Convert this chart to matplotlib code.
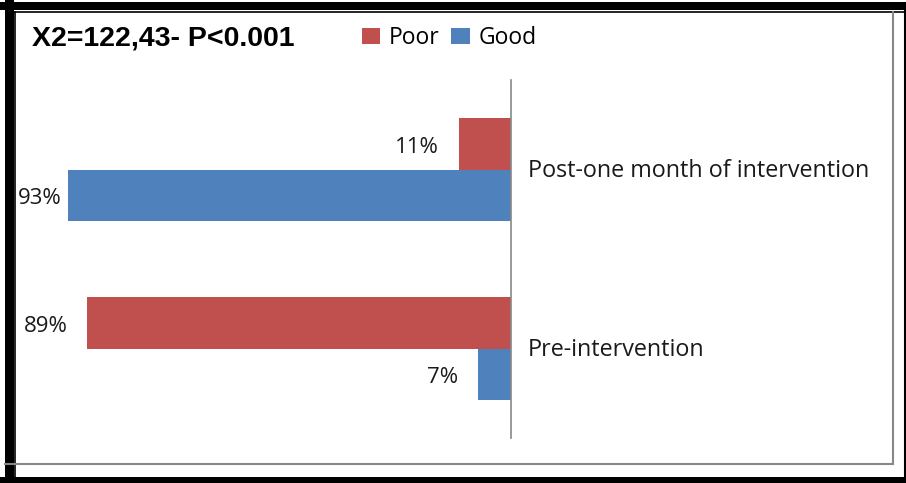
import matplotlib.pyplot as plt
from matplotlib.patches import Rectangle
from matplotlib.lines import Line2D
import numpy as np

# Datos
categorias = ["Pre-intervention", "Post-one month of intervention"]
poor = [89, 11]
good = [7, 93]
series = ["Poor", "Good"]
colores = ["#C0504D", "#4F81BD"]
titulo = "X2=122,43- P<0.001"

W, H = 906, 483
fig = plt.figure(figsize=(W / 100, H / 100), dpi=100)

def fx(px): return px / W
def fy(py): return 1 - py / H

# Marco exterior
neg = dict(transform=fig.transFigure, color="black", zorder=0)
fig.add_artist(Rectangle((fx(0), fy(10)), 1, fy(2) - fy(10), lw=0, **neg))
fig.add_artist(Rectangle((fx(5), fy(483)), fx(9), 1, lw=0, **neg))
fig.add_artist(Rectangle((0, 0), 1, fy(477), lw=0, **neg))
fig.add_artist(Line2D([fx(905), fx(905)], [0, fy(3)], lw=1.5, transform=fig.transFigure, color="black"))
fig.add_artist(Line2D([fx(15), fx(15)], [0, fy(12)], lw=1.2, transform=fig.transFigure, color="black"))
fig.add_artist(Line2D([fx(15), 1], [fy(12), fy(12)], lw=1.2, transform=fig.transFigure, color="black"))
fig.add_artist(Line2D([fx(5), fx(893)], [fy(464), fy(464)], lw=1.5, transform=fig.transFigure, color="#888888"))
fig.add_artist(Line2D([fx(893), fx(893)], [fy(464), fy(12)], lw=1.5, transform=fig.transFigure, color="#888888"))

# Área de la gráfica
x0, x1, y0, y1 = 35, 511, 80, 438
ax = fig.add_axes([fx(x0), fy(y1), fx(x1) - fx(x0), fy(y0) - fy(y1)])
ax.set_xlim(100, 0)
ax.set_ylim(-0.5, 1.5)

y = np.arange(len(categorias))
h = 0.285
b1 = ax.barh(y + h / 2, poor, h, color=colores[0], label=series[0])
b2 = ax.barh(y - h / 2, good, h, color=colores[1], label=series[1])

fuente = "Open Sans"
etiquetas = []
for barras in (b1, b2):
    for r in barras:
        v = r.get_width()
        t = ax.annotate(f"{v:.0f}%", (v, r.get_y() + r.get_height() / 2),
                        xytext=(-14, -2.5), textcoords="offset points",
                        ha="right", va="center", fontsize=16, family=fuente,
                        color="#1a1a1a", annotation_clip=False)
        etiquetas.append(t)

for yi, c in zip(y, categorias):
    ax.annotate(c, (0, yi), xytext=(12, -1), textcoords="offset points",
                ha="left", va="center", fontsize=16.8, family=fuente, color="#1a1a1a",
                annotation_clip=False)

for s in ["top", "left", "bottom"]:
    ax.spines[s].set_visible(False)
ax.spines["right"].set_color("#888888")
ax.spines["right"].set_linewidth(1.2)
ax.set_xticks([])
ax.set_yticks([])
ax.patch.set_alpha(0)

fig.text(fx(32), fy(38), titulo, fontsize=20.5, fontweight="bold",
         family="Liberation Sans", ha="left", va="center")

fig.legend(handles=[b1, b2], labels=series, loc="center left",
           bbox_to_anchor=(fx(341), fy(38)), ncol=2, frameon=False,
           prop={"family": fuente, "size": 16.5}, handlelength=0.8,
           handleheight=0.7, handletextpad=0.4, columnspacing=0.5)

# Si una etiqueta se sale del marco, se recorre hacia la barra
fig.canvas.draw()
r = fig.canvas.get_renderer()
for t in etiquetas:
    bb = t.get_window_extent(r)
    if bb.x0 < 18:
        dx = (18 - bb.x0) * 72 / 100
        ox, oy = t.xyann
        t.xyann = (ox + dx, oy)

fig.savefig("out.png", dpi=100)
